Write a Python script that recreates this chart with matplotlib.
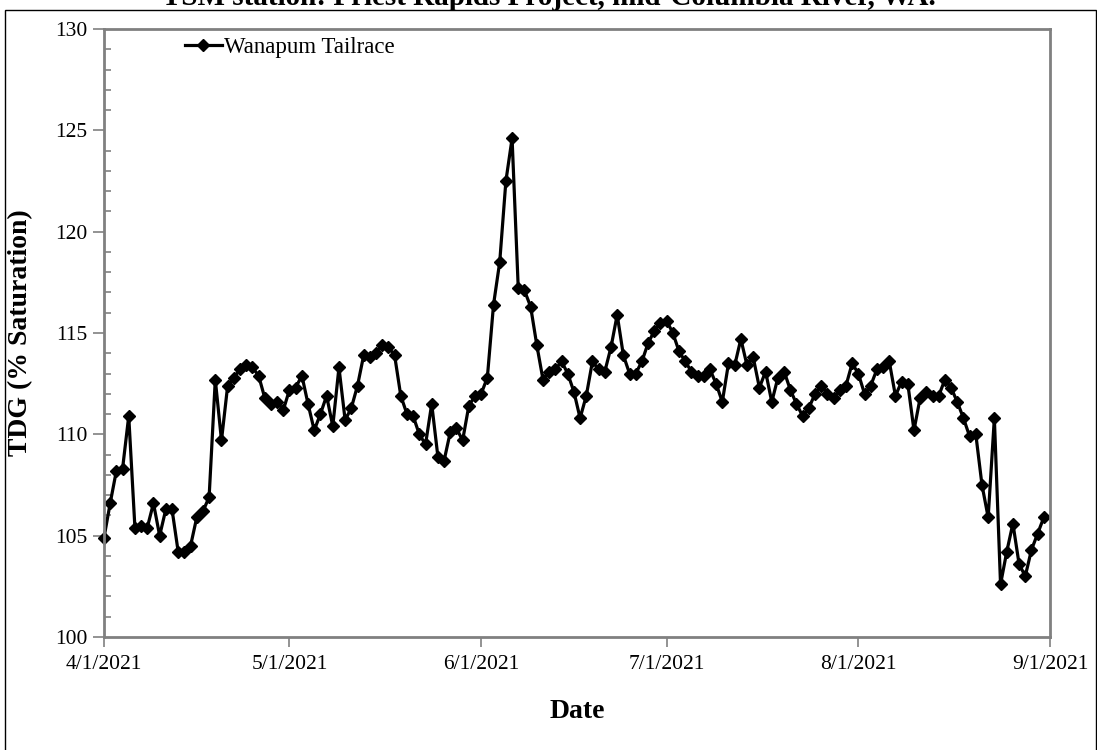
import matplotlib
matplotlib.use("Agg")
import matplotlib.pyplot as plt
import numpy as np
import pandas as pd
from matplotlib.patches import Rectangle
from matplotlib.lines import Line2D

plt.rcParams['font.family'] = ['Liberation Serif', 'DejaVu Serif']

start_date = "2021-04-01"
tdg_values = [
    # April
    104.9, 106.6, 108.2, 108.3, 110.9, 105.4, 105.5, 105.4, 106.6, 105.0,
    106.3, 106.3, 104.2, 104.2, 104.5, 105.9, 106.2, 106.9, 112.7, 109.7,
    112.4, 112.8, 113.2, 113.4, 113.3, 112.9, 111.8, 111.5, 111.6, 111.2,
    # May
    112.2, 112.3, 112.9, 111.5, 110.2, 111.0, 111.9, 110.4, 113.3, 110.7,
    111.3, 112.4, 113.9, 113.8, 114.0, 114.4, 114.3, 113.9, 111.9, 111.0,
    110.9, 110.0, 109.5, 111.5, 108.9, 108.7, 110.1, 110.3, 109.7, 111.4,
    111.9,
    # June
    112.0, 112.8, 116.4, 118.5, 122.5, 124.6, 117.2, 117.1, 116.3, 114.4,
    112.7, 113.1, 113.2, 113.6, 113.0, 112.1, 110.8, 111.9, 113.6, 113.2,
    113.1, 114.3, 115.9, 113.9, 113.0, 113.0, 113.6, 114.5, 115.1, 115.5,
    # July
    115.6, 115.0, 114.1, 113.6, 113.1, 112.9, 112.9, 113.2, 112.5, 111.6,
    113.5, 113.4, 114.7, 113.4, 113.8, 112.3, 113.1, 111.6, 112.8, 113.1,
    112.2, 111.5, 110.9, 111.3, 112.0, 112.4, 112.0, 111.8, 112.2, 112.4,
    113.5,
    # August
    113.0, 112.0, 112.4, 113.2, 113.3, 113.6, 111.9, 112.6, 112.5, 110.2,
    111.8, 112.1, 111.9, 111.9, 112.7, 112.3, 111.6, 110.8, 109.9, 110.0,
    107.5, 105.9, 110.8, 102.6, 104.2, 105.6, 103.6, 103.0, 104.3, 105.1,
    105.9,
]
dates = pd.date_range(start_date, periods=len(tdg_values), freq="D")

series_label = "Wanapum Tailrace"
title_text = "TSM station: Priest Rapids Project, mid-Columbia River, WA."
x_tick_dates = pd.to_datetime(["2021-04-01", "2021-05-01", "2021-06-01",
                               "2021-07-01", "2021-08-01", "2021-09-01"])
x_tick_labels = ["4/1/2021", "5/1/2021", "6/1/2021", "7/1/2021", "8/1/2021", "9/1/2021"]
y_ticks = [100, 105, 110, 115, 120, 125, 130]

W, H = 1097, 750
fig = plt.figure(figsize=(W / 100, H / 100), dpi=100)
ax = fig.add_axes([104 / W, 1 - 637 / H, (1050 - 104) / W, (637 - 29) / H])

ax.plot(dates, tdg_values, color="black", lw=2.3, marker="D", markersize=6,
        markerfacecolor="black", markeredgecolor="black", label=series_label,
        clip_on=False)

ax.set_xlim(x_tick_dates[0], x_tick_dates[-1])
ax.set_ylim(100, 130)
ax.set_xticks(x_tick_dates)
ax.set_xticklabels(x_tick_labels)
ax.set_yticks(y_ticks)
ax.set_yticks(np.arange(100, 131, 1), minor=True)
ax.tick_params(axis="y", which="major", direction="out", length=8, width=1.2,
               color="#808080", labelsize=15.5, pad=4)
ax.tick_params(axis="y", which="minor", direction="in", length=5, width=1.2,
               color="#808080")
ax.tick_params(axis="x", which="major", direction="out", length=7, width=1.2,
               color="#808080", labelsize=15.5, pad=6)
ax.tick_params(axis="x", which="minor", bottom=False)
for s in ax.spines.values():
    s.set_color("#808080")
    s.set_linewidth(2)

ax.set_ylabel("TDG (% Saturation)", fontsize=20, fontweight="bold", labelpad=16)
ax.set_xlabel("Date", fontsize=20, fontweight="bold", labelpad=18)

handle = Line2D([], [], color="black", lw=2.3, marker="D", markersize=6)
ax.legend([handle], [series_label], loc="center left",
          bbox_to_anchor=(81 / 946, 1 - (47 - 29) / 608),
          frameon=False, fontsize=16.5, handlelength=1.6, handletextpad=0.1,
          borderaxespad=0, borderpad=0)

fig.text(0.5, 1 - 5 / H, title_text, ha="center", va="baseline",
         fontsize=21, fontweight="bold")

fig.patches.append(Rectangle((5 / W, -0.01), (1096 - 5) / W, 1 - 10 / H + 0.01,
                             transform=fig.transFigure, fill=False,
                             edgecolor="black", lw=1.0))

fig.savefig("out.png", dpi=100)
